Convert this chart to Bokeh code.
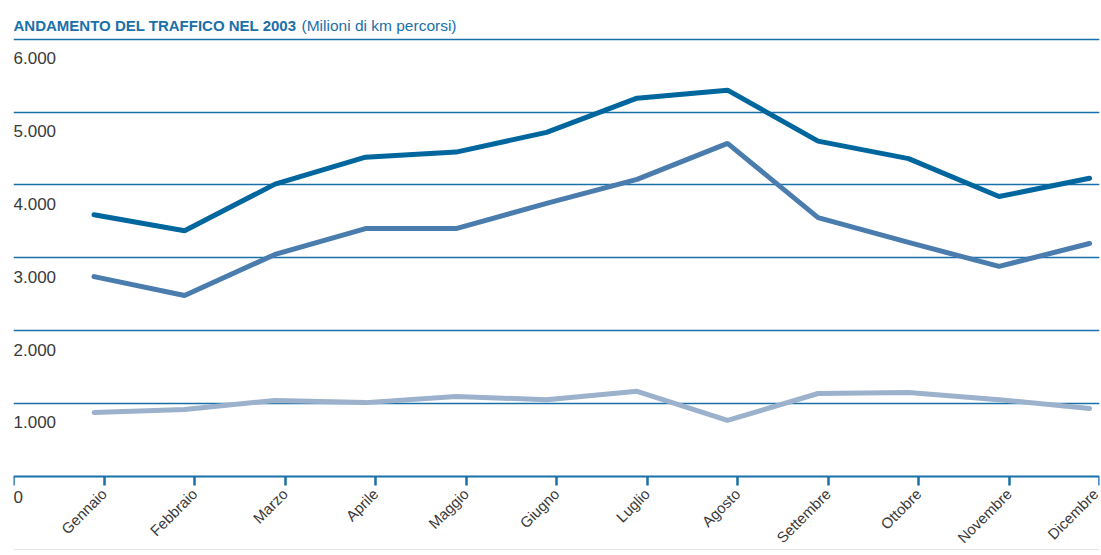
import math
from bokeh.plotting import figure
from bokeh.models import Range1d, FixedTicker, Grid, Label
from bokeh.embed import file_html
from bokeh.resources import INLINE

# ---- data ----
months = ["Gennaio", "Febbraio", "Marzo", "Aprile", "Maggio", "Giugno",
          "Luglio", "Agosto", "Settembre", "Ottobre", "Novembre", "Dicembre"]
y_ticks = [0, 1000, 2000, 3000, 4000, 5000, 6000]
y_tick_labels = ["0", "1.000", "2.000", "3.000", "4.000", "5.000", "6.000"]
serie_totale = [3590, 3370, 4010, 4380, 4450, 4720, 5190, 5300, 4600, 4360, 3840, 4090]
serie_media = [2740, 2480, 3045, 3400, 3400, 3745, 4075, 4570, 3550, 3210, 2880, 3195]
serie_bassa = [875, 915, 1040, 1010, 1095, 1050, 1165, 765, 1135, 1150, 1050, 930]

FONT = "Liberation Sans"
BLUE = "#1a70a8"
TXT = "#3a3a3a"

# frame spans the full height; the month axis is pinned at y = 0
p = figure(width=1101, height=555, output_backend="svg", toolbar_location=None,
           x_range=Range1d(0, 12), y_range=Range1d(-1089, 6531),
           min_border_left=13, min_border_right=2, min_border_top=0, min_border_bottom=0,
           y_axis_location=None)
p.outline_line_color = None
p.background_fill_color = "white"
p.border_fill_color = "white"
p.xgrid.visible = False

# y grid
grid = Grid(dimension=1, ticker=FixedTicker(ticks=y_ticks[1:]),
            grid_line_color=BLUE, grid_line_width=1.5)
p.add_layout(grid)

# x axis
ax = p.xaxis[0]
ax.fixed_location = 0
ax.ticker = FixedTicker(ticks=list(range(len(months) + 1)))
ax.major_label_overrides = {0: ""} | {i + 1: m for i, m in enumerate(months)}
ax.major_label_orientation = math.pi / 4
ax.axis_line_color = BLUE
ax.axis_line_width = 2
ax.major_tick_line_color = BLUE
ax.major_tick_line_width = 2.5
ax.major_tick_out = 9
ax.major_tick_in = 0
ax.minor_tick_line_color = None
ax.major_label_text_font = FONT
ax.major_label_text_font_size = "15px"
ax.major_label_text_color = TXT
ax.major_label_standoff = 6

x_pos = [i + 1 - 0.11 for i in range(len(months))]
p.line(x_pos, serie_bassa, line_width=5, color="#9bb1cc", line_cap="round")
p.line(x_pos, serie_media, line_width=5, color="#4a7cad", line_cap="round")
p.line(x_pos, serie_totale, line_width=5, color="#00669e", line_cap="round")

# y tick labels (below their grid line)
for v, lab in zip(y_ticks, y_tick_labels):
    p.add_layout(Label(x=0, y=v, text=lab, text_font=FONT, text_font_size="17px",
                       text_color=TXT, text_align="left", text_baseline="alphabetic",
                       y_offset=-21 if v == 0 else -19))

# title
p.add_layout(Label(x=0, y=6000, text="ANDAMENTO DEL TRAFFICO NEL 2003", text_font=FONT,
                   text_font_size="15px", text_font_style="bold", text_color=BLUE,
                   text_baseline="alphabetic", y_offset=14))
p.add_layout(Label(x=0, y=6000, text="(Milioni di km percorsi)", text_font=FONT,
                   text_font_size="15.5px", text_color=BLUE,
                   text_baseline="alphabetic", y_offset=14, x_offset=288))

open("out.html", "w").write(file_html(p, INLINE))
